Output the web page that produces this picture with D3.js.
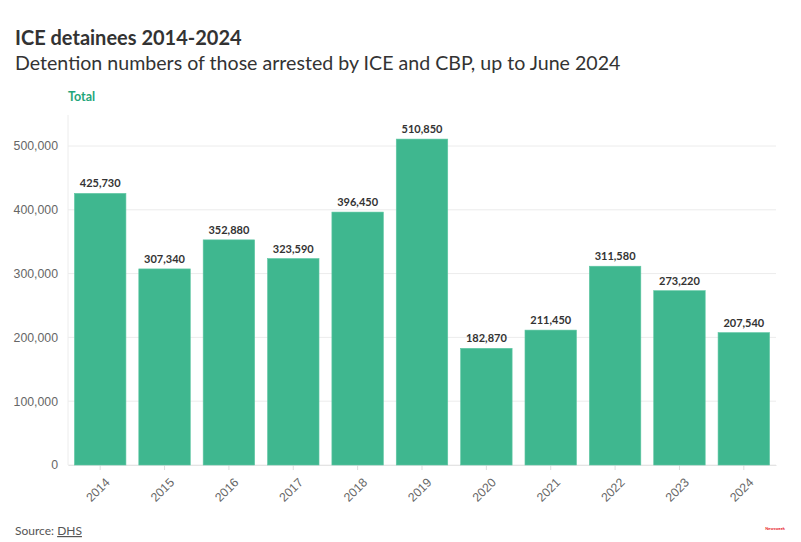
<!DOCTYPE html>
<html><head><meta charset="utf-8">
<script src="https://cdn.jsdelivr.net/npm/d3@7"></script>
<style>
body{margin:0;background:#fff;font-family:"Source Sans Pro","Lato","Noto Sans",sans-serif;}
svg{display:block}
</style></head><body>
<svg id="c" width="801" height="542"></svg>
<script>
const years = ["2014","2015","2016","2017","2018","2019","2020","2021","2022","2023","2024"];
const totals = [425730,307340,352880,323590,396450,510850,182870,211450,311580,273220,207540];
const yTicks = [0,100000,200000,300000,400000,500000];

const svg = d3.select("#c");
const m = {left:68, right:25, top:115, bottom:77};
const W = 801, H = 542;
const x = d3.scaleBand().domain(years).range([m.left, W - m.right]).paddingInner(0.2).paddingOuter(0.1);
const y = d3.scaleLinear().domain([0,500000]).range([465,146]);

svg.append("text").attr("x",15).attr("y",45).attr("font-size",20).attr("font-weight",700).attr("fill","#333").text("ICE detainees 2014-2024");
svg.append("text").attr("x",15).attr("y",70).attr("font-size",19.6).attr("fill","#333").text("Detention numbers of those arrested by ICE and CBP, up to June 2024");
svg.append("text").attr("x",68).attr("y",101).attr("font-size",12.5).attr("font-weight",700).attr("fill","#1fa57a").text("Total");

// gridlines
svg.append("g").selectAll("line").data(yTicks).join("line")
  .attr("x1",m.left).attr("x2",W-m.right).attr("y1",d=>y(d)).attr("y2",d=>y(d))
  .attr("stroke","#ececec").attr("stroke-width",1);
svg.append("line").attr("x1",m.left).attr("x2",m.left).attr("y1",m.top).attr("y2",465).attr("stroke","#ececec");

const yAxis = d3.axisLeft(y).tickValues(yTicks).tickFormat(d3.format(",")).tickSize(0).tickPadding(10);
const gy = svg.append("g").attr("transform",`translate(${m.left},0)`).call(yAxis);
gy.select(".domain").remove();
gy.selectAll("text").attr("font-size",12.3).attr("fill","#666").attr("font-family","inherit");

const xAxis = d3.axisBottom(x).tickSize(5).tickSizeOuter(0);
const gx = svg.append("g").attr("transform",`translate(0,465)`).call(xAxis);
gx.select(".domain").attr("stroke","#e4e4e4");
gx.selectAll(".tick line").attr("stroke","#ddd");
gx.selectAll("text").attr("font-size",12.3).attr("fill","#666").attr("font-family","inherit")
  .attr("text-anchor","end").attr("dx","-0.45em").attr("dy","1.0em")
  .attr("transform","rotate(-45)");

svg.append("g").selectAll("rect").data(years).join("rect")
  .attr("x",d=>x(d)).attr("width",x.bandwidth())
  .attr("y",(d,i)=>y(totals[i])).attr("height",(d,i)=>y(0)-y(totals[i]))
  .attr("fill","#3fb78f").attr("stroke","#5fc7a3").attr("stroke-width",0.6);

svg.append("g").selectAll("text").data(years).join("text")
  .attr("x",d=>x(d)+x.bandwidth()/2).attr("y",(d,i)=>y(totals[i])-6)
  .attr("text-anchor","middle").attr("font-size",11).attr("font-weight",700).attr("fill","#333")
  .text((d,i)=>d3.format(",")(totals[i]));

const src = svg.append("text").attr("x",15).attr("y",535).attr("font-size",12).attr("fill","#555");
src.append("tspan").text("Source: ");
src.append("tspan").attr("text-decoration","underline").text("DHS");

svg.append("text").attr("x",785).attr("y",530).attr("text-anchor","end").attr("font-size",4).attr("font-weight",700).attr("fill","#e8191f").text("Newsweek");
</script>
</body></html>
